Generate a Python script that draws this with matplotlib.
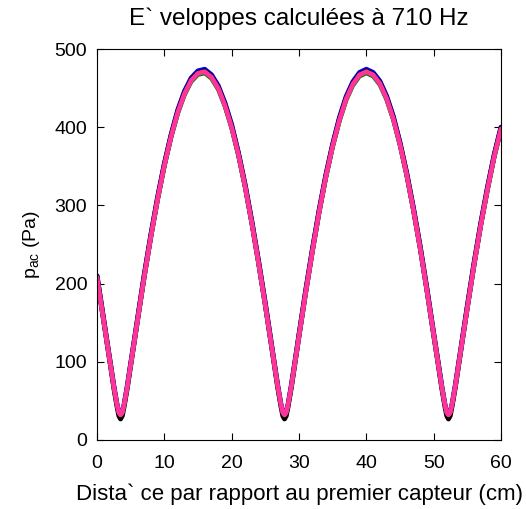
import matplotlib
matplotlib.use("Agg")
import matplotlib.pyplot as plt

plt.rcParams['font.family'] = ['Liberation Sans', 'DejaVu Sans']
plt.rcParams['mathtext.fontset'] = 'custom'
plt.rcParams['mathtext.rm'] = 'Liberation Sans'
plt.rcParams['mathtext.it'] = 'Liberation Sans'

title = "E` veloppes calculées à 710 Hz"
xlabel = "Dista` ce par rapport au premier capteur (cm)"
ylabel = r"$\mathrm{p_{ac}}$ (Pa)"

x_cm = [0, 1, 1.5, 2, 2.5, 3, 3.25, 3.5, 3.75, 4, 4.5, 5, 5.5, 6,
        7, 8, 9, 10, 11, 12, 13, 14, 15, 16, 17, 18, 19, 20, 21, 22, 23, 24, 25, 26,
        26.35, 26.85, 27.35, 27.6, 27.85, 28.1, 28.35, 28.85, 29.35,
        30, 31, 32, 33, 34, 35, 36, 37, 38, 39, 40, 41, 42, 43, 44, 45, 46, 47, 48, 49, 50,
        50.7, 51.2, 51.7, 51.95, 52.2, 52.45, 52.7, 53.2, 53.7,
        54, 55, 56, 57, 58, 59, 60]

p_blue = [210, 153, 125, 97, 69, 44, 36, 33, 36, 44, 69, 97, 125, 153,
          210, 262, 310, 353, 390, 422, 446, 463, 472, 474, 467, 453, 431, 403, 367, 326, 279, 228, 174, 117,
          97, 69, 44, 36, 33, 36, 44, 69, 97,
          134, 191, 244, 294, 339, 378, 412, 439, 458, 470, 474, 470, 459, 440, 414, 380, 341, 296, 247, 193, 136,
          97, 69, 44, 36, 33, 36, 44, 69, 97,
          114, 171, 226, 277, 323, 365, 400]

p_black = [209, 153, 124, 96, 67, 42, 31, 27, 31, 42, 67, 96, 124, 153,
           209, 261, 309, 352, 389, 420, 444, 461, 470, 472, 465, 451, 429, 401, 366, 325, 278, 227, 173, 116,
           96, 67, 42, 31, 27, 31, 42, 67, 96,
           134, 190, 243, 293, 338, 377, 410, 437, 456, 468, 472, 468, 457, 438, 412, 379, 340, 295, 246, 192, 135,
           96, 67, 42, 31, 27, 31, 42, 67, 96,
           113, 170, 225, 276, 322, 364, 399]

p_green = [207, 151, 123, 96, 68, 44, 35, 32, 35, 44, 68, 96, 123, 151,
           207, 259, 306, 349, 386, 417, 441, 458, 467, 469, 462, 448, 426, 398, 363, 322, 276, 225, 171, 115,
           96, 68, 44, 35, 32, 35, 44, 68, 96,
           132, 188, 241, 291, 335, 374, 407, 434, 453, 465, 469, 465, 454, 435, 409, 376, 337, 293, 244, 190, 134,
           96, 68, 44, 35, 32, 35, 44, 68, 96,
           112, 168, 223, 274, 319, 361, 396]

p_pink = [208, 152, 124, 96, 68, 44, 35, 32, 35, 44, 68, 96, 124, 152,
          208, 260, 308, 351, 388, 419, 443, 460, 469, 471, 464, 450, 428, 400, 365, 324, 277, 226, 172, 116,
          96, 68, 44, 35, 32, 35, 44, 68, 96,
          133, 189, 242, 292, 337, 376, 409, 436, 455, 467, 471, 467, 456, 437, 411, 378, 339, 294, 245, 191, 135,
          96, 68, 44, 35, 32, 35, 44, 68, 96,
          113, 169, 224, 275, 321, 363, 398]

xticks = [0, 10, 20, 30, 40, 50, 60]
yticks = [0, 100, 200, 300, 400, 500]

fig = plt.figure(figsize=(5.26, 5.09), dpi=100)
ax = fig.add_axes([97/526, 69/509, 404/526, 391/509])

kw = dict(solid_joinstyle='round', solid_capstyle='round')
ax.plot(x_cm, p_blue, color='#0000ff', lw=3.6, **kw)
ax.plot(x_cm, p_black, color='#000000', lw=3.6, **kw)
ax.plot(x_cm, p_green, color='#008000', lw=3.0, **kw)
ax.plot(x_cm, p_pink, color='#ff3399', lw=3.4, **kw)

ax.set_xlim(0, 60)
ax.set_ylim(0, 500)
ax.set_xticks(xticks)
ax.set_yticks(yticks)
ax.tick_params(direction='in', top=True, right=True, length=5, width=0.8,
               labelsize=14)
ax.tick_params(axis='x', pad=11)
ax.tick_params(axis='y', pad=7)
for s in ax.spines.values():
    s.set_linewidth(0.8)

ax.set_title(title, fontsize=17.5, pad=17)
ax.set_xlabel(xlabel, fontsize=16, labelpad=8)
ax.set_ylabel(ylabel, fontsize=14, labelpad=9)

fig.savefig("out.png", dpi=100)
